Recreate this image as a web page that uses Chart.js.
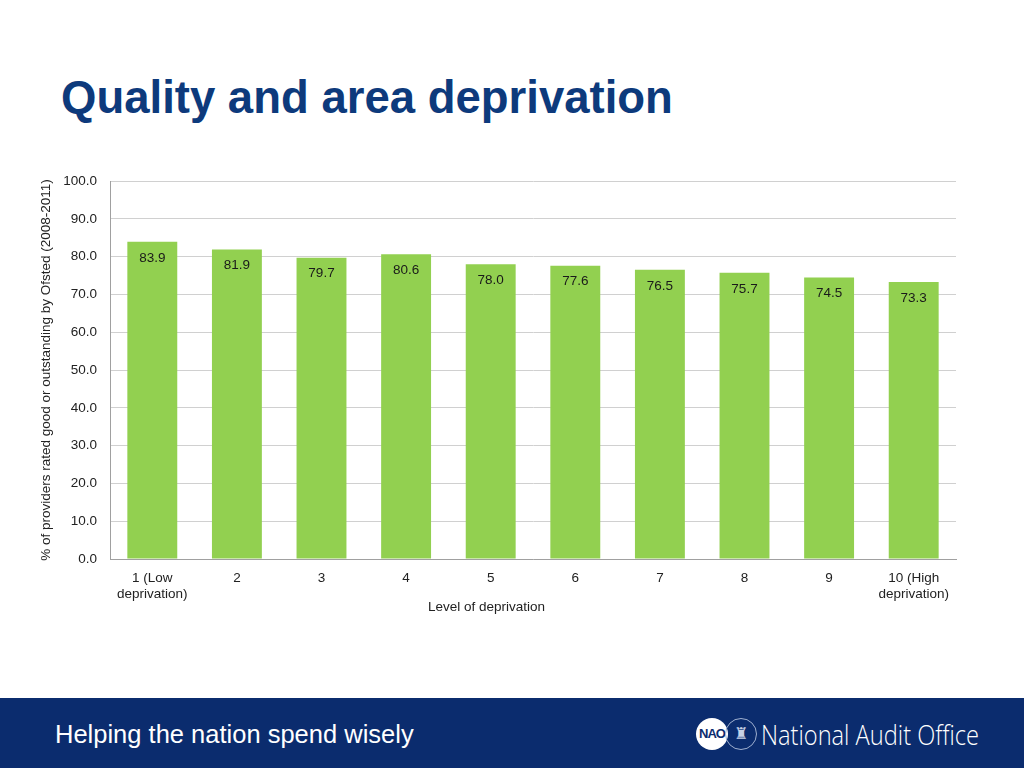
<!DOCTYPE html>
<html>
<head>
<meta charset="utf-8">
<script src="https://cdn.jsdelivr.net/npm/chart.js@4.4.1/dist/chart.umd.min.js"></script>
<style>
  html,body{margin:0;padding:0;background:#fff;width:1024px;height:768px;overflow:hidden;font-family:"Liberation Sans",Arial,sans-serif;}
  #title{position:absolute;left:61px;top:72px;font-weight:bold;font-size:45.5px;color:#0d3a7c;white-space:nowrap;}
  #wrap{position:absolute;left:0;top:0;width:1024px;height:698px;}
  #footer{position:absolute;left:0;top:698px;width:1024px;height:70px;background:#0b2c6e;}
  #tag{position:absolute;left:55px;top:22px;color:#fff;font-size:25.5px;white-space:nowrap;}
  #nao{position:absolute;left:696px;top:20px;width:32px;height:32px;border-radius:50%;background:#fff;color:#0b2c6e;font-size:13px;font-weight:bold;text-align:center;line-height:32px;letter-spacing:-1px;}
  #crest{position:absolute;left:725px;top:20px;width:30px;height:30px;border-radius:50%;border:1px solid #9fb0d0;color:#c8d2e6;font-size:16px;text-align:center;line-height:30px;}
  #org{position:absolute;left:761px;top:18px;color:#fff;font-size:27px;font-family:"Open Sans",sans-serif;font-weight:300;white-space:nowrap;transform:scaleX(0.875);transform-origin:left center;}
</style>
</head>
<body>
<div id="title">Quality and area deprivation</div>
<div id="wrap"><canvas id="c" width="1024" height="698"></canvas></div>
<div id="footer">
  <div id="tag">Helping the nation spend wisely</div>
  <div id="nao">NAO</div>
  <div id="crest">&#9820;</div>
  <div id="org">National Audit Office</div>
</div>
<script>
const categories = [["1 (Low","deprivation)"],"2","3","4","5","6","7","8","9",["10 (High","deprivation)"]];
const values = [83.9, 81.9, 79.7, 80.6, 78.0, 77.6, 76.5, 75.7, 74.5, 73.3];
const yTitle = "% of providers rated good or outstanding by Ofsted (2008-2011)";
const xTitle = "Level of deprivation";

const labelPlugin = {
  id: 'barLabels',
  afterDatasetsDraw(chart) {
    const ctx = chart.ctx;
    const meta = chart.getDatasetMeta(0);
    ctx.save();
    ctx.font = '13.5px "Liberation Sans", Arial, sans-serif';
    ctx.fillStyle = '#1a1a1a';
    ctx.textAlign = 'center';
    ctx.textBaseline = 'middle';
    meta.data.forEach((bar, i) => {
      ctx.fillText(values[i].toFixed(1), bar.x, bar.y + 16);
    });
    // x-axis title, placed slightly left of centre as in the original slide
    const ca = chart.chartArea;
    ctx.fillStyle = '#222';
    ctx.fillText(xTitle, ca.left + (ca.right - ca.left) * 0.445, ca.bottom + 48);
    ctx.restore();
  }
};

new Chart(document.getElementById('c'), {
  type: 'bar',
  data: {
    labels: categories,
    datasets: [{
      data: values,
      backgroundColor: '#92d050',
      borderWidth: 0,
      categoryPercentage: 1.0,
      barPercentage: 0.59
    }]
  },
  options: {
    responsive: false,
    animation: false,
    devicePixelRatio: 1,
    layout: { padding: { left: 38, right: 68, top: 181, bottom: 79 } },
    plugins: { legend: { display: false }, tooltip: { enabled: false } },
    scales: {
      y: {
        min: 0, max: 100,
        ticks: { stepSize: 10, padding: 13, color: '#222', font: { size: 13.5, family: '"Liberation Sans", Arial, sans-serif' },
                 callback: v => v.toFixed(1) },
        grid: { color: '#d0d0d0', drawTicks: false },
        border: { color: '#a0a0a0' },
        title: { display: true, text: yTitle, color: '#222', padding: { top: 0, bottom: 0 },
                 font: { size: 13.5, family: '"Liberation Sans", Arial, sans-serif' } },
        afterFit: s => { s.width = 72; }
      },
      x: {
        ticks: { padding: 11, color: '#222', maxRotation: 0, autoSkip: false,
                 font: { size: 13.5, family: '"Liberation Sans", Arial, sans-serif', lineHeight: 1.2 } },
        grid: { display: false, drawTicks: false },
        border: { color: '#a0a0a0' },
        title: { display: false },
        afterFit: s => { s.height = 60; }
      }
    }
  },
  plugins: [labelPlugin]
});
</script>
</body>
</html>
